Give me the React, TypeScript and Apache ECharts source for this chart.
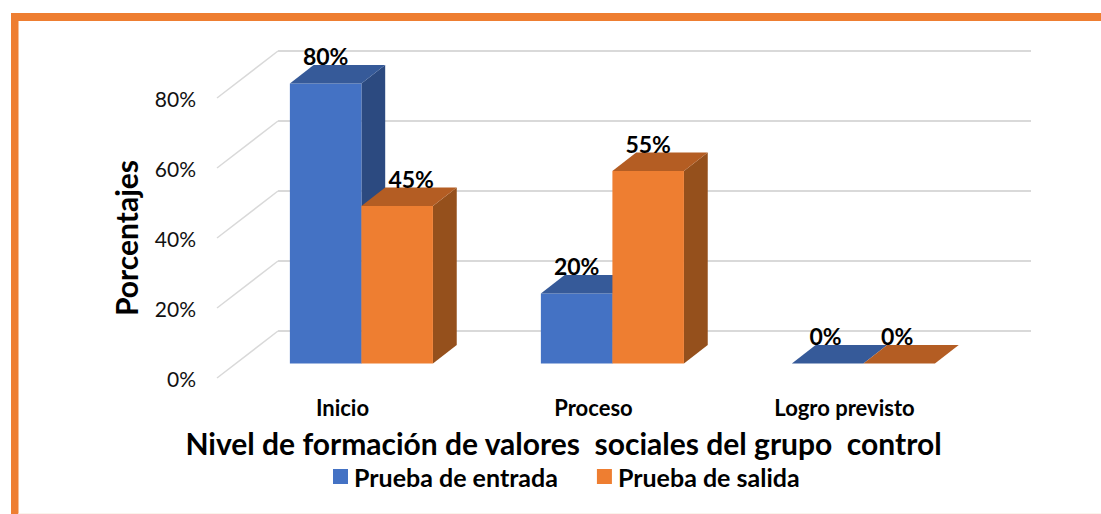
import React, { useEffect, useRef } from "react";
import * as echarts from "echarts";

const categories = ["Inicio", "Proceso", "Logro previsto"];
const entrada = [80, 20, 0];
const salida = [45, 55, 0];
const yTicks = [0, 20, 40, 60, 80];
const SERIES_ENTRADA = "Prueba de entrada";
const SERIES_SALIDA = "Prueba de salida";
const XTITLE = "Nivel de formación de valores  sociales del grupo  control";
const YTITLE = "Porcentajes";

const FONT = "Lato, 'Open Sans', sans-serif";
const FLOOR_DX = 61;
const FLOOR_DY = 47;
const BAR_START = 0.31;
const BAR_DEPTH = 0.39;
const BAR_WIDTH_FRAC = 0.285;

const BLUE = { front: "#4472C4", top: "#365A99", side: "#2C4A80" };
const ORANGE = { front: "#EE7E31", top: "#B45D23", side: "#95501C" };

function barRenderer(seriesIndex: number, palette: typeof BLUE, labelNudge: number[]) {
  return (params: any, api: any) => {
    const cat = api.value(0);
    const val = api.value(1);
    const base = api.coord([cat, 0]);
    const top = api.coord([cat, val]);
    const bw = api.size([1, 0])[0] * BAR_WIDTH_FRAC;
    const ox = FLOOR_DX * BAR_START;
    const oy = FLOOR_DY * BAR_START;
    const dx = FLOOR_DX * BAR_DEPTH;
    const dy = FLOOR_DY * BAR_DEPTH;
    const x0 = base[0] + ox + (seriesIndex === 0 ? -bw : 0);
    const x1 = x0 + bw;
    const yb = base[1] - oy;
    const yt = top[1] - oy;
    const children: any[] = [];
    if (val > 0) {
      children.push({
        type: "polygon",
        shape: { points: [[x1, yb], [x1 + dx, yb - dy], [x1 + dx, yt - dy], [x1, yt]] },
        style: { fill: palette.side },
      });
      children.push({
        type: "rect",
        shape: { x: x0, y: yt, width: bw, height: yb - yt },
        style: { fill: palette.front },
      });
    }
    children.push({
      type: "polygon",
      shape: { points: [[x0, yt], [x0 + dx, yt - dy], [x1 + dx, yt - dy], [x1, yt]] },
      style: { fill: palette.top },
    });
    children.push({
      type: "text",
      style: {
        x: (x0 + x1) / 2 + labelNudge[params.dataIndex],
        y: yt - dy - 9,
        text: val + "%",
        align: "center",
        verticalAlign: "middle",
        fill: "#000",
        font: "bold 23px " + FONT,
      },
    });
    return { type: "group", children };
  };
}

const gridLines = (params: any, api: any) => {
  const y = api.coord([0, api.value(0)])[1];
  const x = params.coordSys.x;
  const width = params.coordSys.width;
  return {
    type: "group",
    children: [
      {
        type: "line",
        shape: { x1: x, y1: y, x2: x + FLOOR_DX, y2: y - FLOOR_DY },
        style: { stroke: "#D9D9D9", lineWidth: 1.5 },
      },
      {
        type: "line",
        shape: { x1: x + FLOOR_DX, y1: y - FLOOR_DY, x2: x + FLOOR_DX + width, y2: y - FLOOR_DY },
        style: { stroke: "#D9D9D9", lineWidth: 2 },
      },
    ],
  };
};

export default function App() {
  const ref = useRef<HTMLDivElement>(null);
  useEffect(() => {
    const chart = echarts.init(ref.current!, undefined, { renderer: "svg" });
    chart.setOption({
      animation: false,
      backgroundColor: "#fff",
      textStyle: { fontFamily: FONT },
      grid: { left: 217, top: 98, width: 753, height: 280, containLabel: false },
      legend: {
        data: [SERIES_ENTRADA, SERIES_SALIDA],
        left: 328,
        top: 459,
        icon: "rect",
        itemWidth: 15,
        itemHeight: 15,
        itemGap: 39,
        textStyle: { fontFamily: FONT, fontWeight: "bold", fontSize: 25, color: "#000", padding: [0, 0, 0, 1] },
      },
      xAxis: {
        type: "category",
        data: categories,
        axisLine: { show: false },
        axisTick: { show: false },
        axisLabel: { fontFamily: FONT, fontWeight: "bold", fontSize: 22, color: "#000", margin: 18 },
        name: XTITLE,
        nameLocation: "middle",
        nameGap: 50,
        nameTextStyle: {
          fontFamily: FONT,
          fontWeight: "bold",
          fontSize: 30,
          color: "#000",
          padding: [0, 60, 0, 0],
        },
      },
      yAxis: {
        type: "value",
        min: 0,
        max: 80,
        interval: 20,
        splitLine: { show: false },
        axisLine: { show: false },
        axisTick: { show: false },
        axisLabel: { fontFamily: FONT, fontSize: 21, color: "#111", margin: 21, formatter: "{value}%" },
        name: YTITLE,
        nameLocation: "middle",
        nameGap: 76,
        nameTextStyle: { fontFamily: FONT, fontWeight: "bold", fontSize: 30, color: "#000" },
      },
      graphic: [
        { type: "rect", shape: { x: 11, y: 13, width: 1090, height: 8 }, style: { fill: "#EE7E31" } },
        { type: "rect", shape: { x: 11, y: 13, width: 7.5, height: 501 }, style: { fill: "#EE7E31" } },
        { type: "rect", shape: { x: 18.5, y: 513, width: 1083, height: 1 }, style: { fill: "#FBF3EC" } },
      ],
      series: [
        {
          type: "custom",
          name: "grid",
          silent: true,
          z: 1,
          data: yTicks.map((t) => [t]),
          encode: { y: 0 },
          renderItem: gridLines,
        },
        {
          type: "custom",
          name: SERIES_ENTRADA,
          z: 2,
          itemStyle: { color: BLUE.front },
          data: entrada.map((v, i) => [i, v]),
          encode: { x: 0, y: 1 },
          renderItem: barRenderer(0, BLUE, [0, 0, -2]),
        },
        {
          type: "custom",
          name: SERIES_SALIDA,
          z: 3,
          itemStyle: { color: ORANGE.front },
          data: salida.map((v, i) => [i, v]),
          encode: { x: 0, y: 1 },
          renderItem: barRenderer(1, ORANGE, [14, 0, -2]),
        },
      ],
    });
    return () => chart.dispose();
  }, []);
  return <div ref={ref} style={{ position: "fixed", left: 0, top: 0, width: 1101, height: 514 }} />;
}
